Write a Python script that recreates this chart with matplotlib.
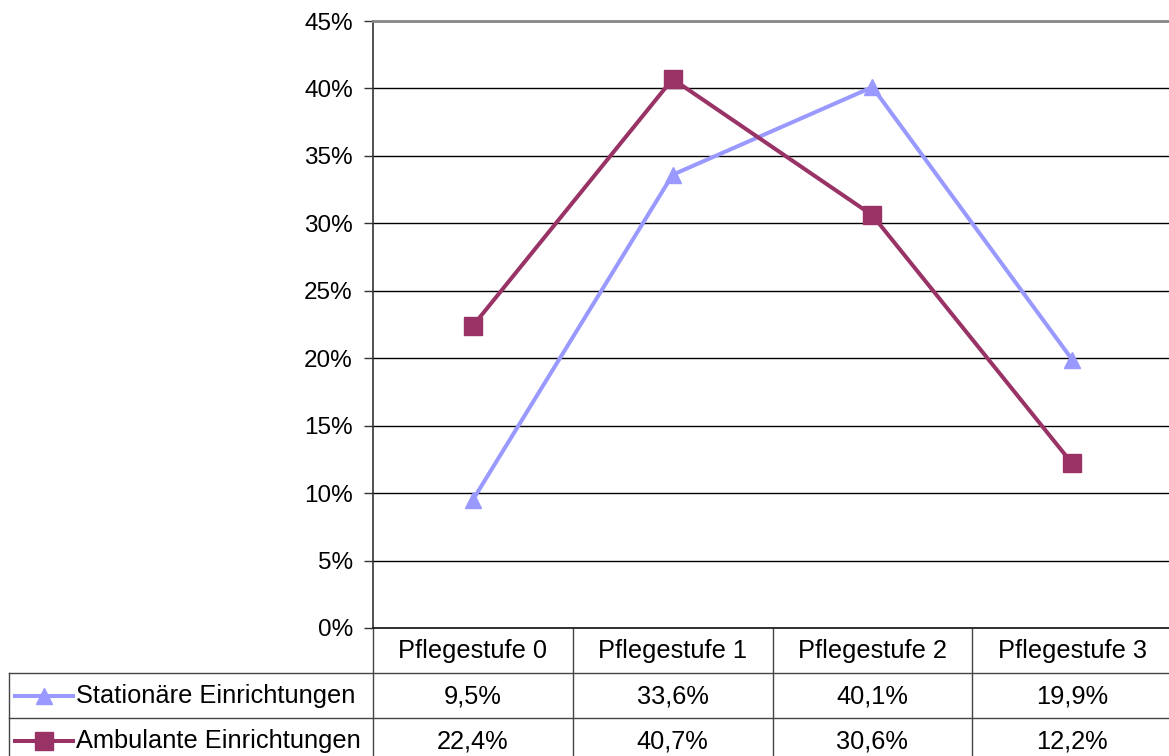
import matplotlib
matplotlib.use("Agg")
import matplotlib.pyplot as plt
from matplotlib.ticker import FuncFormatter

plt.rcParams['font.family'] = ['Liberation Sans', 'DejaVu Sans']

categories = ["Pflegestufe 0", "Pflegestufe 1", "Pflegestufe 2", "Pflegestufe 3"]
stationaer = [9.5, 33.6, 40.1, 19.9]
ambulant = [22.4, 40.7, 30.6, 12.2]
series_names = ["Stationäre Einrichtungen", "Ambulante Einrichtungen"]
col_stat = "#9999FF"
col_amb = "#993366"
fs = 17.5      # axis labels
fs_t = 18.3    # table text

W, H = 1169, 756
fig = plt.figure(figsize=(W / 100, H / 100), dpi=100)

# plot area in pixels
x0, x1 = 373, 1172
y_top, y_zero = 21, 628
ax = fig.add_axes([x0 / W, (H - y_zero) / H, (x1 - x0) / W, (y_zero - y_top) / H])

xs = range(len(categories))
ax.plot(xs, stationaer, color=col_stat, lw=2.9, marker="^", ms=12, zorder=3)
ax.plot(xs, ambulant, color=col_amb, lw=2.9, marker="s", ms=13, zorder=3)

ax.set_xlim(-0.5, 3.5)
ax.set_ylim(0, 45)
ax.set_yticks(range(0, 46, 5))
ax.yaxis.set_major_formatter(FuncFormatter(lambda v, p: f"{v:.0f}%"))
ax.tick_params(axis="y", labelsize=fs, length=6.5, width=1, pad=8, color="#333333")
ax.set_xticks([])
ax.grid(axis="y", color="black", lw=1)
for s in ["right", "bottom"]:
    ax.spines[s].set_visible(False)
ax.spines["top"].set_color("#888888")
ax.spines["top"].set_linewidth(2)
ax.spines["left"].set_color("#333333")
ax.spines["left"].set_linewidth(1.2)
ax.set_axisbelow(True)

# data table below the plot
row_h = 45
t_h = H - y_zero
ax_t = fig.add_axes([x0 / W, 0, (x1 - x0) / W, t_h / H])
ax_t.set_xlim(-0.5, 3.5)
ax_t.set_ylim(t_h / row_h, 0)
ax_t.axis("off")
unit = (x1 - x0) / 4
lab_left = -0.5 - (x0 - 9) / unit
lc = "#444444"

for i in range(5):
    ax_t.plot([i - 0.5, i - 0.5], [0, 3], color=lc, lw=1, clip_on=False)
ax_t.plot([-0.5, 3.5], [0, 0], color="#222222", lw=1.3, clip_on=False)
for r in (1, 2):
    ax_t.plot([lab_left, 3.5], [r, r], color=lc, lw=1, clip_on=False)
ax_t.plot([lab_left, lab_left], [1, 3], color=lc, lw=1, clip_on=False)

for i, c in enumerate(categories):
    ax_t.text(i, 0.52, c, ha="center", va="center", fontsize=fs_t)

rows = [stationaer, ambulant]
colors = [col_stat, col_amb]
markers = ["^", "s"]
msizes = [11, 13]
k0 = lab_left + 6 / unit
k1 = lab_left + 64 / unit
for r, (vals, name) in enumerate(zip(rows, series_names)):
    yy = r + 1.52
    ax_t.plot([k0, k1], [yy, yy], color=colors[r], lw=2.9, clip_on=False)
    ax_t.plot([(k0 + k1) / 2], [yy], color=colors[r], marker=markers[r],
              ms=msizes[r], clip_on=False)
    ax_t.text(k1 + 3 / unit, yy, name, ha="left", va="center", fontsize=fs_t)
    for i, v in enumerate(vals):
        ax_t.text(i, yy, f"{v:.1f}%".replace(".", ","), ha="center", va="center",
                  fontsize=fs_t)

fig.savefig("out.png", dpi=100)
